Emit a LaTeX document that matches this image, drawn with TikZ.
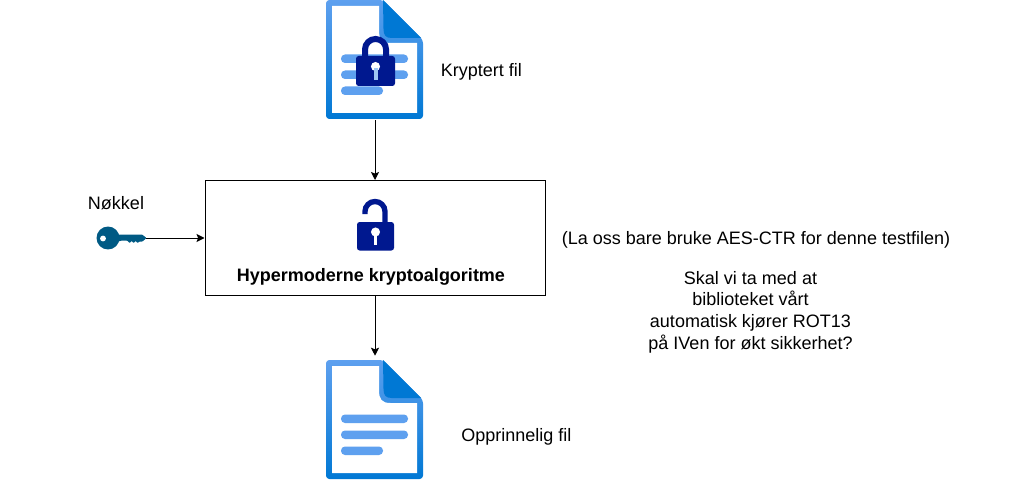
\documentclass[tikz,border=0pt]{standalone}
\usepackage{fontspec}
\setmainfont{Liberation Sans}
\usepackage{xcolor}
\usepackage{tikz}
\usetikzlibrary{arrows.meta, positioning}

\definecolor{docdark}{HTML}{0078D4}
\definecolor{doclight}{HTML}{5EA0EF}
\definecolor{lockblue}{HTML}{00188F}
\definecolor{keyblue}{HTML}{005A84}

\begin{document}
\begin{tikzpicture}[
    x=0.75pt, y=-0.75pt,
    algobox/.style={rectangle, draw=black, line width=0.75pt, fill=white, minimum width=255pt, minimum height=86.25pt, inner sep=0pt},
    iconbox/.style={rectangle, minimum width=72.75pt, minimum height=90pt, inner sep=0pt},
    keybox/.style={rectangle, minimum width=37.5pt, minimum height=18pt, inner sep=0pt},
    label/.style={font=\fontsize{13.5pt}{16.3pt}\selectfont, align=center, inner sep=0pt},
    arrow/.style={-{Stealth[length=6pt, width=6pt, inset=1.2pt]}, line width=0.75pt, black},
    docfile/.pic={
        \path[top color=doclight, bottom color=docdark, rounded corners=2.5pt]
            (-48.5,-60) -- (8.5,-60) -- (48.5,-20) -- (48.5,59) -- (-48.5,59) -- cycle;
        \fill[white] (-42.5,-54) -- (4.5,-54) -- (4.5,-30) .. controls (4.5,-21) and (7,-17) .. (16,-17) -- (42.5,-17) -- (42.5,53) -- (-42.5,53) -- cycle;
        \fill[docdark] (8.5,-60) -- (46.5,-22) -- (17,-22) .. controls (11,-22) and (9,-25) .. (9,-31) -- cycle;
        \fill[doclight, rounded corners=3pt] (-33.5,-5.5) rectangle (33.5,3);
        \fill[doclight, rounded corners=3pt] (-33.5,10.5) rectangle (33.5,19);
        \fill[doclight, rounded corners=3pt] (-33.5,26.5) rectangle (8.5,35);
    }
]

% reference size
\useasboundingbox (0,0) rectangle (1010,481);

\node[iconbox] (cipherfile) at (375,60) {};
\node[iconbox] (plainfile) at (375,420) {};
\node[algobox] (algo) at (375,238) {};
\node[keybox] (keyicon) at (121,238) {};

\pic at (374.5,60) {docfile};
\pic at (374.5,420) {docfile};

% closed lock
\draw[lockblue, line width=4.5pt] (365,60) -- (365,49.5) arc[start angle=180, end angle=0, radius=7.9pt] -- (386,60);
\fill[lockblue, rounded corners=2pt] (356,56) rectangle (395,86);
\fill[white] (375.5,66.5) circle[radius=3.4pt];
\fill[doclight!60!white] (373.5,68) rectangle (377.5,80);

% open lock
\draw[lockblue, line width=4pt] (365,214) -- (365,211.5) arc[start angle=180, end angle=0, radius=7.5pt] -- (385,224);
\fill[lockblue, rounded corners=2pt] (357,222) rectangle (394,250.5);
\fill[white] (375.5,232) circle[radius=3.4pt];
\fill[white] (374,233) rectangle (377,245);

% key
\fill[keyblue, rounded corners=0.5pt] (112,234.5) -- (142,234.5) -- (146.5,238) -- (142.5,241.5) -- (139.5,241.5) -- (137.5,243) -- (135.5,241) -- (133.5,243) -- (131.5,241) -- (129.5,243) -- (127,240.5) -- (122,240.5) -- (116,242) -- (112,243) -- cycle;
\fill[keyblue] (108,238) circle[radius=8.6pt];
\fill[white] (103,238.5) circle[radius=2.2pt];

\draw[arrow] (cipherfile.south) -- (algo.north);
\draw[arrow] (keyicon.east) -- (algo.west);
\draw[arrow, shorten >=3pt] (algo.south) -- (plainfile.north);

\node[label, anchor=west] (cipherlabel) at (440.5,72) {Kryptert fil};
\node[label, anchor=west] (plainlabel) at (461,437) {Opprinnelig fil};
\node[label] (keylabel) at (116,203) {Nøkkel};
\node[label, font=\fontsize{13.5pt}{16.3pt}\selectfont\bfseries] (algolabel) at (371,277) {Hypermoderne kryptoalgoritme};
\node[label] (aeslabel) at (756,240) {(La oss bare bruke AES-CTR for denne testfilen)};
\node[label] (ivlabel) at (750.5,312) {Skal vi ta med at\\biblioteket vårt\\automatisk kjører ROT13\\på IVen for økt sikkerhet?};

\end{tikzpicture}
\end{document}
